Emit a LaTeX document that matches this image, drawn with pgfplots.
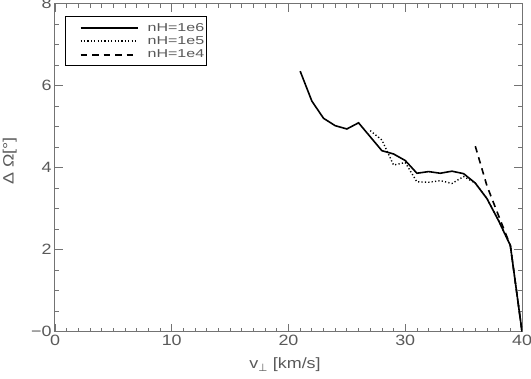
\documentclass[border=0pt]{standalone}
\usepackage{fontspec}
\setmainfont{Liberation Sans}
\newfontfamily\wide[FakeStretch=1.4]{Liberation Sans}
\newfontfamily\mwide[FakeStretch=1.2]{Liberation Sans}
\newfontfamily\dejavu{DejaVu Sans}
\usepackage{pgfplots}
\pgfplotsset{compat=1.18}
\definecolor{axgray}{gray}{0.45}
\definecolor{txtgray}{gray}{0.35}

\begin{document}
\begin{tikzpicture}
\begin{axis}[
  scale only axis, width=467bp, height=328bp,
  xmin=0, xmax=40, ymin=0, ymax=8,
  xtick={0,10,...,40}, ytick={0,2,...,8},
  yticklabels={−0,2,4,6,8},
  minor x tick num=9, minor y tick num=3,
  tick align=inside,
  major tick length=8bp, minor tick length=4bp,
  axis line style={axgray, line width=1bp},
  tick style={axgray, line width=0.8bp},
  tick label style={font=\mwide\fontsize{15}{17}\selectfont, text=txtgray},
  /pgf/number format/assume math mode=true,
  xlabel={v{\dejavu\textsubscript{⊥}} [km/s]},
  ylabel={Δ Ω[°]},
  every axis x label/.style={at={(axis description cs:0.4925,0)}, anchor=center,
    yshift=-33.5bp, font=\mwide\fontsize{15}{17}\selectfont, text=txtgray},
  every axis y label/.style={at={(axis description cs:-0.097,0.52)}, anchor=center,
    rotate=90, font=\mwide\fontsize{15}{17}\selectfont, text=txtgray},
  legend style={at={(axis description cs:0.0214,0.962)}, anchor=north west,
    draw=black, line width=1.2bp, fill=white,
    font=\wide\fontsize{11.5}{13}\selectfont, text=txtgray,
    inner xsep=0bp, inner ysep=4.5bp, row sep=0bp},
  legend cell align=left,
  legend image code/.code={\path[draw=none] (0bp,0bp) -- (80bp,0bp);
    \draw[#1, line width=1.9bp] (15bp,0bp) -- (72bp,0bp);},
]
\addplot[black, line width=1.6bp] coordinates {
  (21,6.35) (22,5.62) (23,5.20) (24,5.02) (25,4.94) (26,5.09)
  (27,4.75) (28,4.41) (29,4.33) (30,4.17) (31,3.86) (32,3.90)
  (33,3.86) (34,3.91) (35,3.85) (36,3.62) (37,3.24) (38,2.70)
  (39,2.10) (40,0.00)};
\addlegendentry{nH=1e6}
\addplot[black, line width=1.4bp, dash pattern=on 1.2bp off 2.2bp] coordinates {
  (27,4.90) (28,4.67) (29,4.06) (30,4.12) (31,3.65) (32,3.64)
  (33,3.68) (34,3.61) (35,3.78) (36,3.62) (37,3.24) (38,2.70)
  (39,2.10) (40,0.00)};
\addlegendentry{nH=1e5}
\addplot[black, line width=1.6bp, dash pattern=on 6.5bp off 5bp] coordinates {
  (36,4.52) (37,3.55) (38,2.82) (39,2.10) (40,0.00)};
\addlegendentry{nH=1e4}
\end{axis}
\pgfresetboundingbox
\path[use as bounding box] (current axis.south west) ++(-55bp,-47.5bp) rectangle ++(531bp,379bp);
\end{tikzpicture}
\end{document}
